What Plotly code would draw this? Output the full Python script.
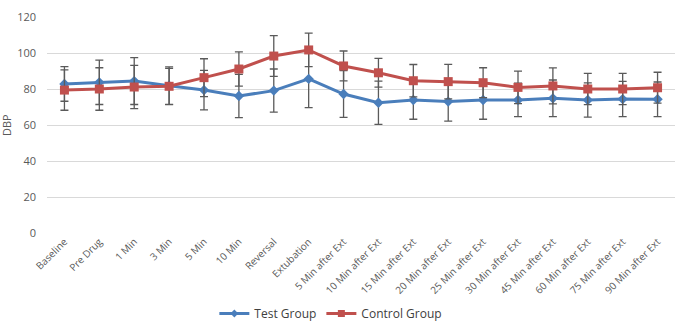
import plotly.graph_objects as go

# Time points of the measurements
categories = [
    "Baseline", "Pre Drug", "1 Min", "3 Min", "5 Min", "10 Min", "Reversal",
    "Extubation", "5 Min after Ext", "10 Min after Ext", "15 Min after Ext",
    "20 Min after Ext", "25 Min after Ext", "30 Min after Ext",
    "45 Min after Ext", "60 Min after Ext", "75 Min after Ext", "90 Min after Ext",
]

# Mean diastolic blood pressure and standard deviation per group
test_mean = [82.8, 83.7, 84.4, 81.8, 79.4, 76.1, 79.1, 85.6, 77.2, 72.4,
             73.9, 73.0, 73.9, 73.9, 74.8, 73.9, 74.4, 74.3]
test_sd = [9.6, 12.3, 13.0, 10.5, 11.0, 12.0, 12.0, 16.0, 13.0, 12.0,
           10.7, 10.8, 10.7, 9.3, 10.2, 9.5, 9.8, 9.6]

control_mean = [79.4, 80.0, 81.1, 81.5, 86.3, 91.1, 98.3, 101.7, 92.8, 89.0,
                84.6, 84.1, 83.5, 80.9, 81.7, 80.0, 80.0, 80.7]
control_sd = [11.2, 11.8, 12.0, 10.0, 10.5, 9.5, 11.3, 9.3, 8.3, 8.0,
              9.0, 9.6, 8.3, 9.0, 10.0, 8.7, 8.7, 8.6]

y_ticks = [0, 20, 40, 60, 80, 100, 120]

font_family = "Open Sans, Liberation Sans, sans-serif"
err_color = "#5a5a5a"
blue = "#4a7ebb"
red = "#c0504d"

series = [
    ("Test Group", test_mean, test_sd, blue, "diamond", 8, 6),
    ("Control Group", control_mean, control_sd, red, "square", 9, 7),
]

fig = go.Figure()

for name, mean, sd, color, symbol, msize, legend_msize in series:
    # Data line with error bars
    fig.add_trace(go.Scatter(
        x=categories, y=mean, name=name, legendgroup=name, showlegend=False,
        mode="lines+markers",
        line=dict(color=color, width=3),
        marker=dict(symbol=symbol, size=msize, color=color),
        error_y=dict(type="data", array=sd, visible=True,
                     color=err_color, thickness=1.3, width=4),
    ))
    # Legend entry with a smaller marker
    fig.add_trace(go.Scatter(
        x=[categories[0]], y=[None], name=name, legendgroup=name,
        mode="lines+markers",
        line=dict(color=color, width=3),
        marker=dict(symbol=symbol, size=legend_msize, color=color),
    ))

fig.update_layout(
    width=676, height=328,
    margin=dict(l=47, r=1, t=17, b=95),
    paper_bgcolor="white", plot_bgcolor="white",
    font=dict(family=font_family, size=11, color="#595959"),
    showlegend=True,
    legend=dict(orientation="h", x=0.452, xanchor="center",
                yref="container", y=-0.025, yanchor="bottom",
                font=dict(size=12, color="#404040"),
                itemwidth=30, tracegroupgap=0),
    annotations=[dict(
        text="DBP", xref="paper", yref="paper", x=0, y=0.5,
        xanchor="center", yanchor="middle", xshift=-41, textangle=-90,
        showarrow=False, font=dict(size=11, color="#595959"),
    )],
)

fig.update_xaxes(
    type="category", showgrid=False, zeroline=False, showline=False,
    tickangle=-45, tickfont=dict(size=10, color="#595959"),
    ticks="", range=[-0.5, len(categories) - 0.5], automargin=False,
)

fig.update_yaxes(
    range=[0, 120], tickvals=y_ticks, showgrid=True,
    gridcolor="#d9d9d9", gridwidth=1, zeroline=False, showline=False,
    tickfont=dict(size=11, color="#595959"), ticklabelstandoff=10,
    automargin=False,
)

fig.write_html("out.html")
